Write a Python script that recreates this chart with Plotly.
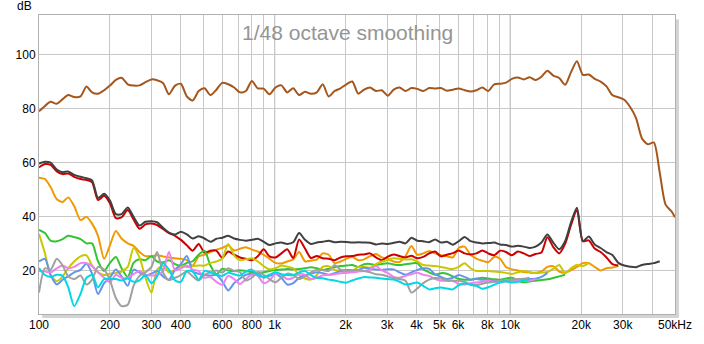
import plotly.graph_objects as go

FREQ = [100, 106, 112, 119, 126, 133, 141, 150, 159, 168, 178, 189, 200, 212, 224, 238, 252, 267, 283, 300,
        317, 336, 356, 378, 400, 424, 449, 476, 504, 534, 566, 599, 635, 673, 713, 755, 800, 848, 898, 951,
        1008, 1068, 1131, 1199, 1270, 1345, 1425, 1510, 1600, 1695, 1796, 1903, 2016, 2136, 2263, 2397, 2540, 2691, 2851, 3020,
        3200, 3390, 3592, 3805, 4032, 4271, 4525, 4795, 5080, 5382, 5702, 6041, 6400, 6781, 7184, 7611, 8063, 8543, 9051, 9589,
        10159, 10763, 11404, 12082, 12800, 13561, 14368, 15222, 16127, 17086, 18102, 19179, 20319, 21527, 22807, 24163, 25600, 27122, 28735, 30443,
        32254, 34172, 36203, 38356, 40637, 43053, 45613, 48325, 50000]

BROWN = [79, 81, 82.5, 81.8, 83.5, 85, 84.3, 84.5, 88.2, 86, 85.5, 86.8, 88.5, 90.6, 91.4, 89, 88.5, 88.6, 89.8, 90.8,
         90.5, 89.5, 85.3, 88.5, 89.2, 84.5, 83, 86.5, 87.5, 85, 87, 89.5, 89, 87.8, 86, 86.5, 90.2, 87.5, 87.4, 85.3,
         87.8, 88.6, 86, 87.5, 85, 86.2, 85.5, 86, 89, 84.5, 86.5, 87.5, 89, 90, 85.5, 87, 87.8, 86.5, 86.8, 84.8,
         87, 87.8, 86.5, 87.6, 87.3, 86.5, 87.6, 87.4, 87.6, 86.6, 87, 87.4, 86.8, 86.3, 86.8, 87.8, 86.5, 89, 89.2, 89.6,
         91, 91.5, 90.8, 91.6, 90.6, 91.8, 94, 92.2, 91.3, 88.8, 93.5, 97.5, 92.5, 92.6, 91, 90, 88.2, 85, 84.2, 83.3,
         80.6, 76.5, 69, 66.8, 67.5, 56.5, 44.5, 42, 39.9]

DARK = [59.7, 60.4, 60, 57.5, 56.5, 56.8, 55.5, 54.8, 54.3, 53.5, 47, 48.5, 46, 41, 41, 43.5, 40, 36.8, 38.2, 38.4,
        38, 36, 34.2, 33.5, 34.5, 33.5, 32, 32.8, 32, 30.8, 31.9, 32.3, 33, 32, 31.5, 31.2, 31.5, 31.9, 30.8, 29.6,
        30.2, 30.5, 30, 30.6, 34, 31.5, 30, 30.5, 30.8, 31.2, 30.6, 30.8, 30.7, 30.5, 30.6, 30.5, 30.4, 29.8, 30.2, 30,
        30.4, 30.8, 30.2, 32.3, 31.2, 31, 30.6, 31.6, 30.5, 30.8, 29.7, 31, 32.6, 31, 30.5, 30.2, 30.3, 30.5, 29.8, 29.6,
        29, 29.3, 29, 28.5, 29, 30.5, 33.5, 30.5, 28, 31, 38, 43.4, 31, 32.7, 29.8, 28.5, 27, 25.9, 23, 22,
        21.6, 21.4, 22.2, 22.6, 22.9, 23.6]

RED = [58.3, 59.5, 59.2, 56.8, 55.8, 56, 54.8, 54, 53.6, 52.8, 46.2, 47.8, 45, 39.5, 39.8, 42.5, 39, 35.6, 37.2, 37.5,
       37, 35.5, 34, 33, 31.5, 29.5, 27.5, 30, 26.8, 27.5, 27.5, 24.8, 27.2, 26, 25, 24.5, 24, 25.4, 28, 25.4,
       25, 26.5, 28, 24.8, 31.6, 28.3, 24.8, 25.5, 24.7, 24.5, 24, 25, 25.4, 25.5, 26, 26.1, 26.5, 25, 24, 25.3,
       26.1, 25.5, 25, 25.6, 24.7, 25.2, 26.5, 27.2, 25.4, 26, 26.6, 27.6, 26.5, 26.1, 26.5, 27.6, 26.5, 25.8, 27.5, 27,
       25.8, 27.2, 26.5, 25.5, 26.3, 26.8, 32.5, 28.8, 26.5, 30, 37, 42.5, 31, 31.3, 28.3, 27, 25, 22.5, 22]

ORANGE = [54.5, 54, 51, 46.5, 45.5, 47.2, 44, 38.8, 40, 37.5, 33, 24.5, 29.5, 34.8, 32, 30.2, 29.3, 27, 25.5, 25.5,
          25.8, 25.4, 25, 24.7, 24.5, 24, 22, 25.4, 26, 27, 27.9, 28.5, 29.5, 27.6, 28.2, 28.8, 27.9, 27.2, 26, 24.5,
          23, 22.8, 23.5, 24.3, 27, 23.6, 23.8, 24.2, 26.5, 26, 22.9, 23.5, 24.5, 25.2, 24, 24.3, 25.5, 26.3, 25, 24.5,
          23.5, 23.3, 25.5, 29.2, 26, 26.5, 27.4, 26.5, 25.8, 25.4, 25, 28.5, 29, 26, 24.6, 23.8, 23.2, 25.2, 24.5, 21.5,
          20.6, 20.2, 19.6, 19.4, 19.3, 19.8, 21.5, 21.8, 19.8, 19.4, 20.3, 21.5, 22.9, 22.9, 21.5, 20.2, 21, 21.3, 21.8]

GREEN = [35.2, 34, 31.2, 31, 31.8, 33, 32.5, 31.8, 30.2, 30.2, 23.6, 20, 23, 25.2, 21, 17.8, 23, 24.3, 24, 25.4,
         23.5, 23.2, 24, 22.5, 21.8, 23, 23.6, 26, 27.5, 22, 18.8, 20.8, 20.2, 20, 20.3, 20, 19.6, 19.4, 19.5, 20,
         20.4, 20.5, 20.7, 20.6, 20.7, 21, 21.4, 21, 20.4, 20.8, 21.4, 21.8, 22, 22.2, 21.5, 22.5, 22.6, 22.2, 22.6, 22.9,
         22.4, 22.2, 22.5, 22.8, 22.9, 20.6, 19.5, 18.6, 19.2, 19, 18, 17, 16.8, 16.8, 17.2, 17.5, 17.2, 16.9, 16.8, 17.2,
         17.5, 16.5, 15.8, 16.1, 16.4, 16.7, 16.9, 17.4, 18, 18.6]

YELLOW = [33.7, 26.5, 18.5, 16.2, 18, 21, 23.5, 25.4, 25.8, 22, 19.5, 18.5, 19, 19.3, 19.8, 21.5, 28.5, 25, 17.5, 12,
          20.4, 22, 19.5, 20.5, 21.8, 21.5, 21.8, 22, 22, 23, 23.5, 24.5, 30, 25.8, 24, 24.3, 24.7, 23.5, 21.8, 20.6,
          21, 22, 21.6, 21, 18.5, 17.2, 16.8, 18.5, 21.5, 21.8, 20.4, 20, 19.3, 20, 21.5, 21.5, 21.2, 22.5, 23.5, 24,
          24.7, 24.5, 24.2, 24.3, 23.5, 22.2, 22, 21.8, 21.5, 21, 20.7, 21.5, 22.9, 21, 20, 20, 20, 19.8, 19.6, 19.3,
          18.9, 19.5, 20, 19.6, 19.3, 19.4, 19.6, 20.8, 22.2, 19.2, 21, 22.2, 21.8, 23]

BLUE = [23.5, 24.5, 18.5, 15, 16.8, 18, 19.5, 20.4, 22.8, 19, 11.5, 15.5, 17.5, 20.5, 18, 14.5, 20.5, 19.5, 18.3, 19,
        20, 18, 16.8, 20.5, 22.5, 25.5, 19.8, 19, 18.6, 18.3, 18.6, 16.2, 12.8, 15.5, 17.2, 18.6, 19, 19.2, 17.5, 18.2,
        19, 17.5, 15, 15.5, 17.5, 18.4, 19, 19.5, 19.2, 18.6, 19.2, 20, 20.4, 20.3, 20.4, 21.2, 20.8, 20.5, 20.4, 20.6,
        20.6, 19.5, 18.6, 19.5, 20.4, 21, 20.8, 18.8, 17.8, 17, 17.5, 18.5, 17.8, 16.8, 17, 16.8, 16.8, 16.5, 16.1, 16.2,
        16.4, 16.6, 16.8, 17, 17.1, 17.8, 19.3]

VIOLET = [20, 19.8, 19.5, 21, 22, 21, 21.5, 22.9, 22.9, 21.8, 19.5, 17.5, 15.8, 18.6, 17.5, 17.5, 18.8, 20, 18.6, 18.3,
          18.5, 20, 27, 20.2, 21, 22, 20.5, 20, 17.5, 17.8, 16, 15, 18.2, 17, 15.2, 17, 18.6, 18.2, 15.5, 16.5,
          19, 18.5, 17, 17.5, 19, 18.5, 17, 17.5, 18.4, 18.5, 18.8, 19.2, 19.3, 19.5, 19.8, 20, 20.5, 21.8, 20.2, 19.3,
          17.8, 17.5, 18.2, 18.8, 19.3, 18.6, 18.2, 17, 16.4, 16.4, 16.4, 15.2, 15, 15.5, 15.7, 16, 16.4, 16, 15.7, 16.2,
          16.8, 16.5, 16.4, 16.4, 17]

GRAY = [12, 21, 20.5, 24.5, 22, 18, 17, 18.3, 15, 16.8, 21.5, 20.5, 16.5, 10, 7, 7.5, 14.5, 18.2, 19.5, 21.5,
        27, 19.5, 16.6, 17.5, 18.5, 19.8, 18, 16.5, 18.6, 19.5, 20.2, 19.4, 21, 20, 19.6, 16.5, 17.5, 19.5, 18.6, 17,
        15.8, 17.5, 19, 18.5, 17, 18, 19.5, 20.4, 20.3, 20, 22.2, 20.5, 20, 20.2, 20.4, 20, 19.5, 18.8, 18.6, 18,
        17.3, 17, 16.4, 12, 13.5, 15.5, 16.8, 17.4, 17.2, 16.5, 16.4, 16.4, 16, 15, 14.8, 15.3, 15.7, 16, 16.4, 16.6,
        16.8, 17, 17.1, 17.5]

CYAN = [21.1, 18.5, 17.8, 18.6, 18.2, 14, 7, 11.5, 17.5, 18.5, 14, 17, 17, 17, 16.5, 17.2, 16, 16.5, 18.5, 15.5,
        18, 22.9, 20.5, 16.5, 16, 20, 19.8, 16.8, 20, 19.5, 18.6, 18.2, 19.3, 18.8, 18.3, 19.8, 20.5, 18.5, 17.8, 18.6,
        19.5, 18.8, 18.5, 18.5, 19.5, 20, 18.5, 17.5, 17.3, 16.8, 16.5, 16, 15.7, 16.5, 17.2, 17.8, 17.6, 17.5, 17.2, 17,
        16.8, 16, 15, 15.3, 15.7, 14.5, 13.2, 13.6, 13.9, 13.5, 13.2, 14.8, 15.5, 14.9, 14.5, 13.4, 14, 14.9, 15.8, 16.2,
        15.7, 16, 16.4, 17]

SERIES = [
    ("brown", BROWN, "#a5561c"),
    ("orange", ORANGE, "#f09a00"),
    ("red", RED, "#cc0000"),
    ("dark", DARK, "#404040"),
    ("green", GREEN, "#33c433"),
    ("yellow", YELLOW, "#c8c800"),
    ("blue", BLUE, "#6495ed"),
    ("violet", VIOLET, "#ee82ee"),
    ("gray", GRAY, "#a0a0a0"),
    ("cyan", CYAN, "#00d8e4"),
]

GRID_X = [100, 200, 300, 400, 500, 600, 700, 800, 900, 1000, 2000, 3000, 4000, 5000, 6000, 7000, 8000, 9000,
          10000, 20000, 30000, 40000, 50000]
GRID_X_TEXT = ["100", "200", "300", "400", "", "600", "", "800", "", "1k", "2k", "3k", "4k", "5k", "6k", "", "8k", "",
               "10k", "20k", "30k", "", "50kHz"]
MAJOR_X = [1000, 10000]
Y_TICKS = [20, 40, 60, 80, 100]

fig = go.Figure()
for name, vals, col in SERIES:
    fig.add_trace(go.Scatter(x=FREQ[:len(vals)], y=vals, mode="lines", name=name,
                             line=dict(color=col, width=2, shape="spline", smoothing=0.7),
                             hoverinfo="skip"))

for fx in MAJOR_X:
    fig.add_shape(type="line", xref="x", yref="paper", x0=fx, x1=fx, y0=0, y1=1,
                  line=dict(color="#808080", width=1), layer="below")

# frame shadow on right and bottom
fig.add_shape(type="rect", xref="paper", yref="paper", xsizemode="pixel", xanchor=1,
              x0=1, x1=4, y0=-0.012, y1=0.985, line=dict(width=0), fillcolor="#d4d4d4", layer="below")
fig.add_shape(type="rect", xref="paper", yref="paper", ysizemode="pixel", yanchor=0,
              y0=-4, y1=-1, x0=0.005, x1=1.005, line=dict(width=0), fillcolor="#d4d4d4", layer="below")

fig.update_layout(
    width=704, height=344,
    margin=dict(l=39, r=19, t=15, b=22),
    paper_bgcolor="white", plot_bgcolor="white",
    showlegend=False,
    font=dict(family="Arial, Liberation Sans, sans-serif", size=12, color="black"),
    xaxis=dict(type="log", range=[2, 4.69897], tickvals=GRID_X, ticktext=GRID_X_TEXT,
               showgrid=True, gridcolor="#c8c8c8", gridwidth=1, ticks="", zeroline=False,
               showline=True, linecolor="#b0b0b0", linewidth=1, mirror=True,
               tickfont=dict(size=12)),
    yaxis=dict(range=[4.1, 114.6], tickvals=Y_TICKS, showgrid=True, gridcolor="#c8c8c8",
               gridwidth=1, ticks="", zeroline=False,
               showline=True, linecolor="#b0b0b0", linewidth=1, mirror=True,
               tickfont=dict(size=12)),
    annotations=[
        dict(text="1/48 octave smoothing", xref="paper", yref="paper", x=0.4845, y=0.94,
             showarrow=False, font=dict(size=21, color="#959595"), xanchor="center", yanchor="middle"),
        dict(text="dB", xref="paper", yref="paper", x=0.0, y=1.0, xshift=-5, yshift=9,
             showarrow=False, font=dict(size=12, color="black"), xanchor="right", yanchor="middle"),
    ],
)

fig.write_html("out.html")
